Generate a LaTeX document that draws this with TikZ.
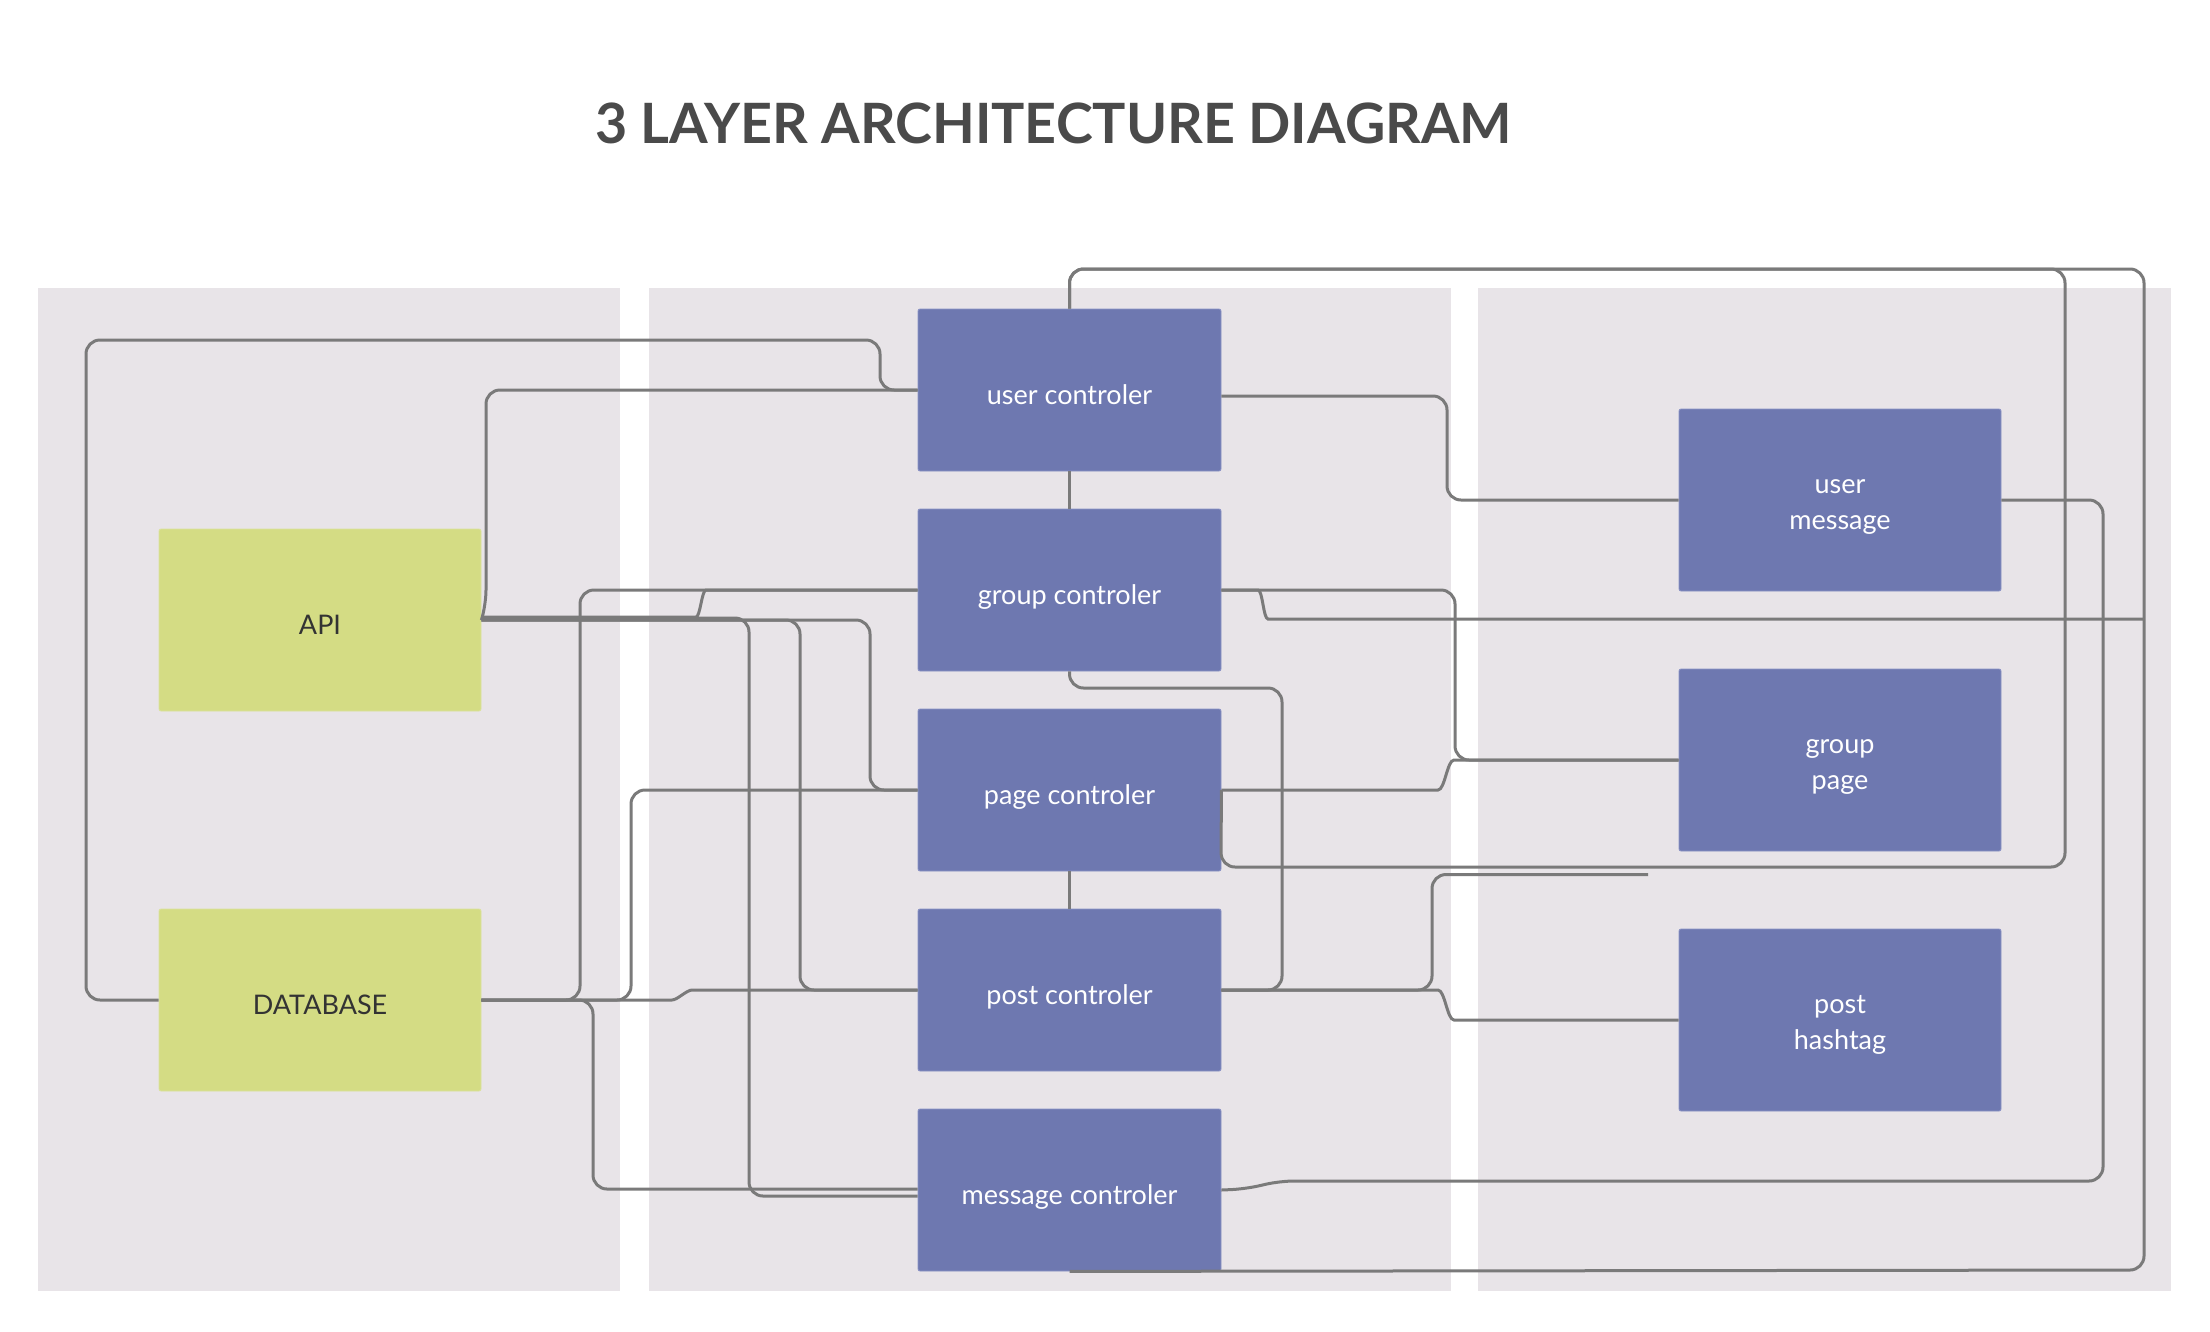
\documentclass[tikz,border=0pt]{standalone}
\usepackage{fontspec}
\setmainfont{Lato}
\definecolor{lanegray}{HTML}{E8E4E8}
\definecolor{boxblue}{HTML}{6E78B0}
\definecolor{boxedge}{HTML}{8A92C6}
\definecolor{boxgreen}{HTML}{D4DC84}
\definecolor{greenedge}{HTML}{DCE29C}
\definecolor{linegray}{HTML}{7A7A7A}
\definecolor{titlegray}{HTML}{4A4A4A}
\definecolor{darktext}{HTML}{333333}
\begin{document}
\begin{tikzpicture}[x=1pt,y=-1pt,
  conn/.style={draw=linegray,line width=3pt,rounded corners=14pt},
  boxfont/.style={font=\fontsize{27}{34}\selectfont},
  ctrl/.style={boxfont,fill=boxblue,draw=boxedge,line width=0.8pt,rounded corners=2pt,
    minimum width=303pt,minimum height=162pt,inner sep=0pt,text=white,
    text height=28pt,text depth=0pt},
  entity/.style={boxfont,fill=boxblue,draw=boxedge,line width=0.8pt,rounded corners=2pt,
    minimum width=322pt,minimum height=182pt,inner sep=0pt},
  dataside/.style={boxfont,fill=boxgreen,draw=greenedge,line width=0.8pt,rounded corners=2pt,
    minimum width=322pt,minimum height=182pt,inner sep=0pt,text=darktext,
    text height=28pt,text depth=0pt},
  wtxt/.style={boxfont,text=white,inner sep=0pt,anchor=base},
]
\useasboundingbox (0,0) rectangle (2210,1331);
\fill[white] (0,0) rectangle (2210,1331);

% lanes
\fill[lanegray] (38,288) rectangle (620,1291);
\fill[lanegray] (649,288) rectangle (1451,1291);
\fill[lanegray] (1478,288) rectangle (2171,1291);

% title
\node[anchor=base,inner sep=0pt,text=titlegray,font=\fontsize{55.6}{60}\selectfont\bfseries]
  (title) at (1053.5,143) {3 LAYER ARCHITECTURE DIAGRAM};

% data layer
\node[dataside] (api) at (320,620) {API};
\node[dataside] (db) at (320,1000) {DATABASE};

% controllers
\node[ctrl] (uc) at (1069.5,390) {user controler};
\node[ctrl] (gc) at (1069.5,590) {group controler};
\node[ctrl] (pc) at (1069.5,790) {page controler};
\node[ctrl] (poc) at (1069.5,990) {post controler};
\node[ctrl] (mc) at (1069.5,1190) {message controler};

% entities
\node[entity] (um) at (1840,500) {};
\node[wtxt] (umt1) at ([yshift=6.7pt]um.center) {user};
\node[wtxt] (umt2) at ([yshift=-29.3pt]um.center) {message};
\node[entity] (gp) at (1840,760) {};
\node[wtxt] (gpt1) at ([yshift=6.7pt]gp.center) {group};
\node[wtxt] (gpt2) at ([yshift=-29.3pt]gp.center) {page};
\node[entity] (ph) at (1840,1020) {};
\node[wtxt] (pht1) at ([yshift=6.7pt]ph.center) {post};
\node[wtxt] (pht2) at ([yshift=-29.3pt]ph.center) {hashtag};

% free ends
\coordinate (e1) at (2144,619);
\coordinate (e2) at (1648,874.5);

% connectors right side
\draw[conn] (pc.east) -- (1221,867) -- (2065,867) -- (2065,269) -- (1069.5,269) -- (uc.north);
\draw[conn] (uc.north) -- (1069.5,269) -- (2144,269) -- (2144,1270) -- (mc.south);
\draw[conn] (gc.east) -- (1244,590) to[out=0,in=180] (1282,619) -- (e1);
\draw[conn] (gc.east) -- (1455,590) -- (1455,760) -- (gp.west);
\draw[conn] (pc.east) -- (1424,790) to[out=0,in=180] (1468,760) -- (gp.west);
\draw[conn] ([yshift=-6pt]uc.east) -- (1447,396) -- (1447,500) -- (um.west);
\draw[conn] (um.east) -- (2103,500) -- (2103,1181) -- (1280,1181) -- (1245,1189) -- (mc.east);
\draw[conn] (gc.south) -- (1069.5,688) -- (1282,688) -- (1282,990) -- (poc.east);
\draw[conn] (poc.east) -- (1432,990) -- (1432,874.5) -- (e2);
\draw[conn] (poc.east) -- (1424,990) to[out=0,in=180] (1468,1020) -- (ph.west);
\draw[conn] (uc.south) -- (gc.north);
\draw[conn] (pc.south) -- (poc.north);

% connectors left side
\draw[conn] (db.west) -- (86,1000) -- (86,340) -- (880,340) -- (880,390) -- (uc.west);
\draw[conn] (uc.west) -- (486,390) -- (486,604) [rounded corners=5pt] -- (api.east);
\draw[conn] ([yshift=3pt]api.east) -- (682,617) to[out=0,in=180] (720,590) -- (gc.west);
\draw[conn] (api.east) -- (870,620) -- (870,790) -- (pc.west);
\draw[conn] (api.east) -- (800,620) -- (800,990) -- (poc.west);
\draw[conn] ([yshift=2pt]api.east) -- (749,618) -- (749,1196) -- ([yshift=-6pt]mc.west);
\draw[conn] (db.east) -- (580,1000) -- (580,590) -- (gc.west);
\draw[conn] (db.east) -- (631,1000) -- (631,790) -- (pc.west);
\draw[conn] (db.east) -- (658,1000) to[out=0,in=180] (706,990) -- (poc.west);
\draw[conn] (db.east) -- (593,1000) -- (593,1189) -- ([yshift=1pt]mc.west);
\end{tikzpicture}
\end{document}
